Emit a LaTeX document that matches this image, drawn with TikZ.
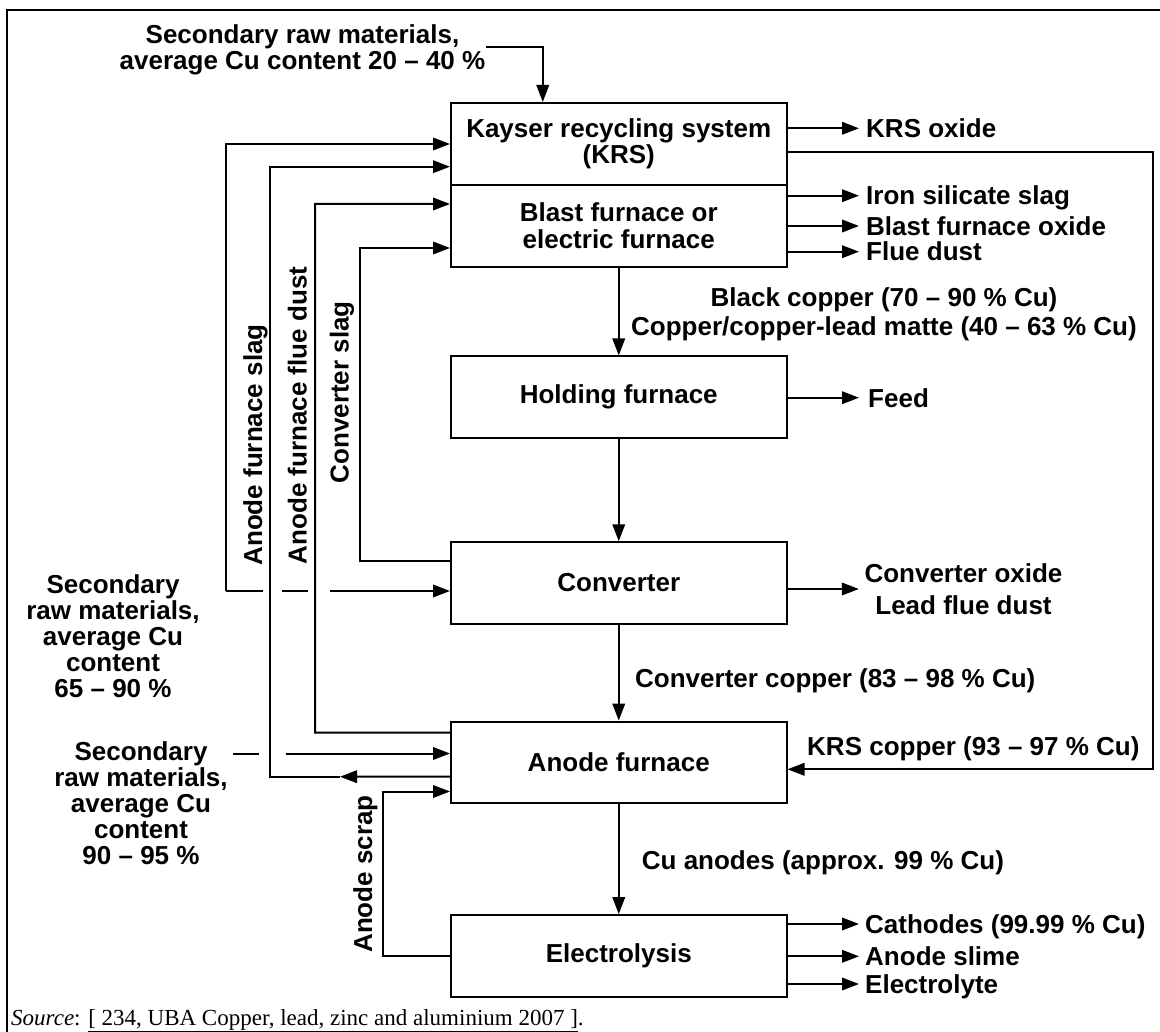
\documentclass[tikz,border=0pt]{standalone}
\usepackage{fontspec}
\setmainfont{Liberation Sans}
\newfontfamily\srcfont{Liberation Serif}
\usetikzlibrary{arrows.meta}
\begin{document}
\begin{tikzpicture}[x=1pt,y=-1pt,
  every node/.style={font=\fontsize{26}{26.5}\selectfont\bfseries, inner sep=0pt},
  box/.style={draw, line width=2pt, minimum width=335.5pt, minimum height=81.5pt, align=center},
  ln/.style={line width=2pt},
  arr/.style={ln, -{Triangle[length=17pt,width=12.5pt]}},
  lbl/.style={anchor=west, text height=18.6pt, text depth=0pt},
  vlbl/.style={rotate=90, text height=18.6pt, text depth=0pt},
]
\useasboundingbox (0,0) rectangle (1160,1032);
% frame
\draw[ln] (7,1032) -- (7,10.5) -- (1165,10.5);

% process boxes
\node[box, minimum height=82pt] (krs) at (618.75,144) {Kayser recycling system\\(KRS)};
\node[box, minimum height=81.7pt] (bf) at (618.75,225.85) {Blast furnace or\\electric furnace};
\node[box] (hf) at (618.75,397.2) {Holding furnace};
\node[box] (cv) at (618.75,583) {Converter};
\node[box] (af) at (618.75,762.35) {Anode furnace};
\node[box] (el) at (618.75,955.85) {Electrolysis};

% main flow
\draw[arr] (bf.south) -- (hf.north);
\draw[arr] (hf.south) -- (cv.north);
\draw[arr] (cv.south) -- (af.north);
\draw[arr] (af.south) -- (el.north);

\node[align=center, font=\fontsize{26}{29}\selectfont\bfseries] (bc) at (884,314.5)
  {Black copper (70 – 90 \% Cu)\\Copper/copper-lead matte (40 – 63 \% Cu)};
\node[lbl] (ccu) at (635,678) {Converter copper (83 – 98 \% Cu)};
\node[lbl] (cua) at (641.7,860) {Cu anodes (approx. 99 \% Cu)};

% top input
\node[align=center] (srm1t) at (302.5,50) {Secondary raw materials,\\average Cu content 20 – 40 \%};
\coordinate (krsin) at ([xshift=-76pt]krs.north);
\draw[arr] ([yshift=3.3pt]srm1t.east) -| (krsin);

% right outputs
\node[lbl] (krsox) at (866,128.3) {KRS oxide};
\draw[arr] (krs.east |- krsox.west) -- ([xshift=-7pt]krsox.west);
\node[lbl] (iss) at (866,195.7) {Iron silicate slag};
\draw[arr] (bf.east |- iss.west) -- ([xshift=-7pt]iss.west);
\node[lbl] (bfo) at (866,226) {Blast furnace oxide};
\draw[arr] (bf.east |- bfo.west) -- ([xshift=-7pt]bfo.west);
\node[lbl] (fd) at (866,251.7) {Flue dust};
\draw[arr] (bf.east |- fd.west) -- ([xshift=-7pt]fd.west);
\node[lbl] (feed) at (868,397.7) {Feed};
\draw[arr] (hf.east |- feed.west) -- ([xshift=-9pt]feed.west);
\node[align=center, font=\fontsize{26}{32}\selectfont\bfseries] (cox) at (963.5,589) {Converter oxide\\Lead flue dust};
\draw[arr] (cv.east |- cox.west) -- ([xshift=-5.5pt]cox.west);
\node[lbl] (cath) at (865,924) {Cathodes (99.99 \% Cu)};
\draw[arr] (el.east |- cath.west) -- ([xshift=-6pt]cath.west);
\node[lbl] (asl) at (865,956.3) {Anode slime};
\draw[arr] (el.east |- asl.west) -- ([xshift=-6pt]asl.west);
\node[lbl] (ely) at (865,984) {Electrolyte};
\draw[arr] (el.east |- ely.west) -- ([xshift=-6pt]ely.west);

% KRS copper loop
\coordinate (rbus) at (1152.7,769.3);
\draw[arr] ([yshift=-7.7pt]krs.east) -| (rbus) -- (af.east |- rbus);
\node[lbl] (krscu) at (807,746) {KRS copper (93 – 97 \% Cu)};

% left feeds and recycles
\node[align=center, font=\fontsize{26}{26}\selectfont\bfseries] (srm2t) at (113,636)
  {Secondary\\raw materials,\\average Cu\\content\\65 – 90 \%};
\node[align=center, font=\fontsize{26}{26}\selectfont\bfseries] (srm3t) at (141,803)
  {Secondary\\raw materials,\\average Cu\\content\\90 – 95 \%};

\coordinate (vA) at (225.7,591);
\draw[arr] (vA) |- (krs.west);
\draw[ln] (vA) -- ++(37.3,0);
\draw[ln] ([xshift=56pt]vA) -- ++(26.3,0);
\draw[arr] ([xshift=104.3pt]vA) -- ([yshift=-8pt]cv.west);

\coordinate (vB) at (270,776.7);
\coordinate (slagtip) at (340,776.7);
\draw[arr] ([yshift=-14.35pt]af.west) -- (slagtip);
\draw[arr] (slagtip) -- (vB) |- ([yshift=-22.7pt]krs.west);

\coordinate (vC) at (315,732.7);
\draw[arr] ([yshift=29.65pt]af.west) -- (vC) |- ([yshift=21.85pt]bf.west);

\coordinate (vD) at (360,561);
\draw[arr] ([yshift=22pt]cv.west) -- (vD) |- ([yshift=-22.15pt]bf.west);

\coordinate (s3a) at (233,753.5);
\coordinate (s3b) at (285.7,753.5);
\draw[ln] (s3a) -- ++(26,0);
\draw[arr] (s3b) -- ([yshift=8.85pt]af.west);

\coordinate (vS) at (382.5,0);
\coordinate (scrapin) at ([yshift=-29.15pt]af.west);
\draw[arr] (el.west) -| (vS |- scrapin) -- (scrapin);

% rotated labels
\node[vlbl] (lafs) at (252.7,445) {Anode furnace slag};
\node[vlbl] (lafd) at (297.4,415.5) {Anode furnace flue dust};
\node[vlbl] (lcs) at (339.3,392.4) {Converter slag};
\node[vlbl] (las) at (362.7,874) {Anode scrap};

% source
\node[anchor=base west, font=\fontsize{23}{23}\selectfont\srcfont] (src) at (11,1025)
  {\textit{Source}: \underline{[ 234, UBA Copper, lead, zinc and aluminium 2007 ]}.};
\end{tikzpicture}
\end{document}
